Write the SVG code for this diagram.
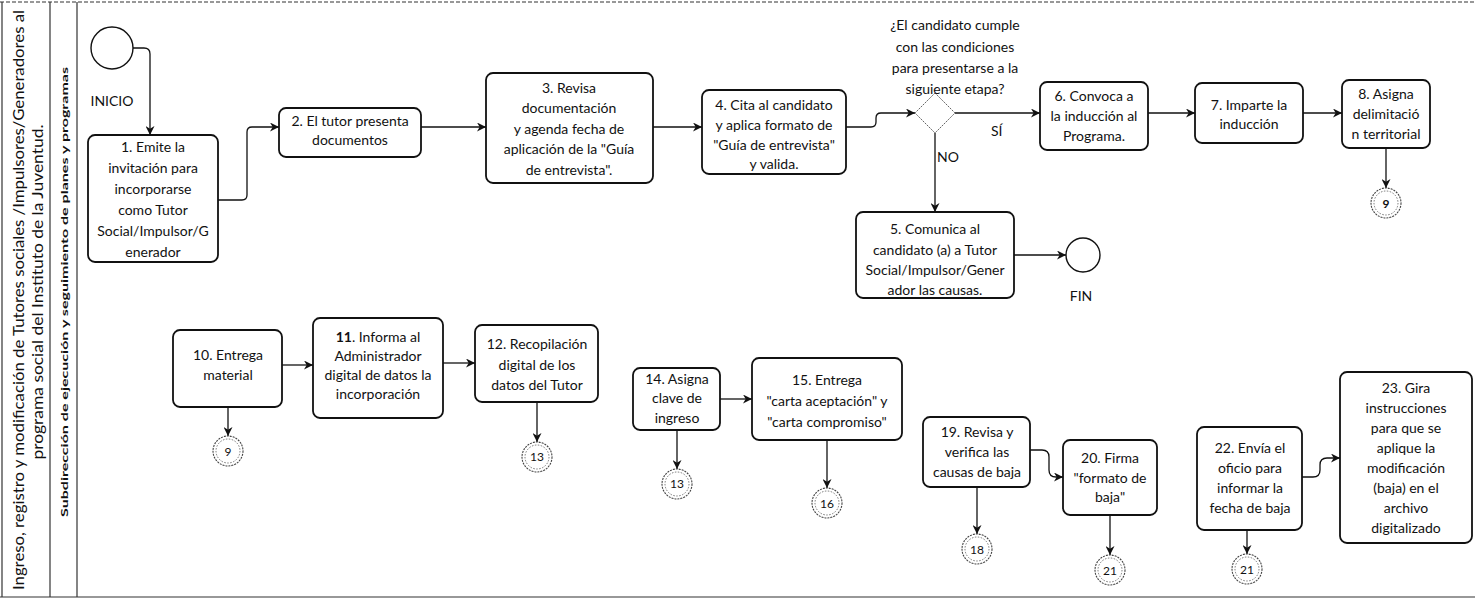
<svg xmlns="http://www.w3.org/2000/svg" width="1475" height="611" viewBox="0 0 1475 611">
<style>
.frame{fill:none;stroke:#333;stroke-width:1.2}
.box{fill:#fff;stroke:#111;stroke-width:1.8}
.t{font-family:Lato,"Liberation Sans",sans-serif;font-size:14px;fill:#111;text-anchor:middle}
.lbl{font-family:Lato,"Liberation Sans",sans-serif;font-size:14px;fill:#111}
.ttl{font-family:Lato,"Liberation Sans",sans-serif;font-size:15px;fill:#111;text-anchor:middle}
.sub{font-family:Lato,"Liberation Sans",sans-serif;font-size:10px;font-weight:bold;fill:#111;text-anchor:middle}
.c{fill:none;stroke:#111;stroke-width:1.3;marker-end:url(#ah)}
.off{fill:#fff;stroke:#444;stroke-width:1.1;stroke-dasharray:2 1}
.offi{fill:none;stroke:#666;stroke-width:0.9;stroke-dasharray:1.5 1.5}
.offt{font-family:Lato,"Liberation Sans",sans-serif;font-size:12px;fill:#111;text-anchor:middle}
.ev{fill:#fff;stroke:#111;stroke-width:1.4}
</style>
<defs>
<marker id="ah" viewBox="0 0 10 10" refX="10" refY="5" markerWidth="9" markerHeight="9" orient="auto" markerUnits="userSpaceOnUse">
<path d="M0,0 L10,5 L0,10 L3,5 z" fill="#111"/>
</marker>
</defs>
<rect width="1475" height="611" fill="#fff"/>
<g id="frame">
<line class="frame" x1="0" y1="2" x2="1475" y2="2" stroke-dasharray="4 2"/>
<line class="frame" x1="0" y1="597" x2="1475" y2="597"/>
<line class="frame" x1="2" y1="2" x2="2" y2="597"/>
<line class="frame" x1="50" y1="2" x2="50" y2="597"/>
<line class="frame" x1="77" y1="2" x2="77" y2="597"/>
<text class="ttl" transform="translate(19,300) rotate(-90)" y="5" textLength="580" lengthAdjust="spacingAndGlyphs">Ingreso, registro y modificación de Tutores sociales /Impulsores/Generadores al</text>
<text class="ttl" transform="translate(38,292) rotate(-90)" y="5" textLength="335" lengthAdjust="spacingAndGlyphs">programa social del Instituto de la Juventud.</text>
<text class="sub" transform="translate(64,292) rotate(-90)" y="4" textLength="450" lengthAdjust="spacingAndGlyphs">Subdirección de ejecución y seguimiento de planes y programas</text>
</g>
<g id="connectors">
<path class="c" d="M133,48 H144 Q150,48 150,54 V135"/>
<path class="c" d="M218,200 H242 Q247,200 247,195 V132 Q247,127 252,127 H279"/>
<path class="c" d="M421,127 H486"/>
<path class="c" d="M653,127 H702"/>
<path class="c" d="M846,127 H871 Q876,127 876,122 V118 Q876,113 881,113 H915"/>
<path class="c" d="M955,113 H1040"/>
<path class="c" d="M935,133 V212"/>
<path class="c" d="M1014,255 H1066"/>
<path class="c" d="M1148,113 H1195"/>
<path class="c" d="M1303,113 H1342"/>
<path class="c" d="M1386,148 V188"/>
<path class="c" d="M228,407 V436"/>
<path class="c" d="M282,365 H313"/>
<path class="c" d="M443,363 H475"/>
<path class="c" d="M537,402 V442"/>
<path class="c" d="M677,430 V469"/>
<path class="c" d="M720,399 H752"/>
<path class="c" d="M827,440 V488"/>
<path class="c" d="M977,487 V534"/>
<path class="c" d="M1030,450 H1042 Q1049,450 1049,457 V470 Q1049,477 1056,477 H1063"/>
<path class="c" d="M1110,515 V555"/>
<path class="c" d="M1247,530 V554"/>
<path class="c" d="M1302,477 H1313 Q1320,477 1320,470 V465 Q1320,458 1327,458 H1340"/>
<text class="lbl" x="991" y="136">SÍ</text>
<text class="lbl" x="937" y="162">NO</text>
</g>
<g id="inicio">
<circle class="ev" cx="112" cy="48" r="21"/>
<text class="t" x="112" y="106">INICIO</text>
</g>
<g id="n1">
<rect class="box" x="88" y="135" width="130" height="127" rx="7"/>
<text class="t" x="153" y="152">1. Emite la</text>
<text class="t" x="153" y="173">invitación para</text>
<text class="t" x="153" y="194">incorporarse</text>
<text class="t" x="153" y="215">como Tutor</text>
<text class="t" x="153" y="236">Social/Impulsor/G</text>
<text class="t" x="153" y="257">enerador</text>
</g>
<g id="n2">
<rect class="box" x="279" y="108" width="142" height="49" rx="7"/>
<text class="t" x="350" y="126">2. El tutor presenta</text>
<text class="t" x="350" y="145">documentos</text>
</g>
<g id="n3">
<rect class="box" x="486" y="73" width="167" height="110" rx="7"/>
<text class="t" x="569" y="93">3. Revisa</text>
<text class="t" x="569" y="113">documentación</text>
<text class="t" x="569" y="134">y agenda fecha de</text>
<text class="t" x="569" y="154">aplicación de la "Guía</text>
<text class="t" x="569" y="175">de entrevista".</text>
</g>
<g id="n4">
<rect class="box" x="702" y="90" width="144" height="84" rx="7"/>
<text class="t" x="774" y="110">4. Cita al candidato</text>
<text class="t" x="774" y="130">y aplica formato de</text>
<text class="t" x="774" y="150">"Guía de entrevista"</text>
<text class="t" x="774" y="169">y valida.</text>
</g>
<g id="d1">
<polygon points="935,93 955,113 935,133 915,113" fill="#fff" stroke="#666" stroke-width="1" stroke-dasharray="2 1"/>
<text class="t" x="955" y="30">¿El candidato cumple</text>
<text class="t" x="955" y="52">con las condiciones</text>
<text class="t" x="955" y="73">para presentarse a la</text>
<text class="t" x="955" y="94">siguiente etapa?</text>
</g>
<g id="n5">
<rect class="box" x="856" y="212" width="158" height="86" rx="7"/>
<text class="t" x="935" y="234">5. Comunica al</text>
<text class="t" x="935" y="255">candidato (a) a Tutor</text>
<text class="t" x="935" y="275">Social/Impulsor/Gener</text>
<text class="t" x="935" y="295">ador las causas.</text>
</g>
<g id="fin">
<circle class="ev" cx="1083" cy="255" r="17" stroke-width="2.2"/>
<text class="t" x="1081" y="301">FIN</text>
</g>
<g id="n6">
<rect class="box" x="1040" y="82" width="108" height="68" rx="7"/>
<text class="t" x="1094" y="101">6. Convoca a</text>
<text class="t" x="1094" y="121">la inducción al</text>
<text class="t" x="1094" y="141">Programa.</text>
</g>
<g id="n7">
<rect class="box" x="1195" y="83" width="108" height="60" rx="7"/>
<text class="t" x="1249" y="110">7. Imparte la</text>
<text class="t" x="1249" y="129">inducción</text>
</g>
<g id="n8">
<rect class="box" x="1342" y="80" width="88" height="68" rx="7"/>
<text class="t" x="1386" y="99">8. Asigna</text>
<text class="t" x="1386" y="119">delimitació</text>
<text class="t" x="1386" y="139">n territorial</text>
</g>
<g id="off9a">
<circle class="off" cx="1386" cy="203" r="15"/>
<circle class="offi" cx="1386" cy="203" r="12"/>
<text class="offt" x="1386" y="208" font-weight="bold">9</text>
</g>
<g id="n10">
<rect class="box" x="173" y="330" width="109" height="77" rx="7"/>
<text class="t" x="228" y="360">10. Entrega</text>
<text class="t" x="228" y="380">material</text>
</g>
<g id="off9b">
<circle class="off" cx="228" cy="451" r="15"/>
<circle class="offi" cx="228" cy="451" r="12"/>
<text class="offt" x="228" y="456">9</text>
</g>
<g id="n11">
<rect class="box" x="313" y="318" width="130" height="100" rx="7"/>
<text class="t" x="378" y="342"><tspan font-weight="bold">11</tspan>. Informa al</text>
<text class="t" x="378" y="361">Administrador</text>
<text class="t" x="378" y="380">digital de datos la</text>
<text class="t" x="378" y="399">incorporación</text>
</g>
<g id="n12">
<rect class="box" x="475" y="325" width="123" height="77" rx="7"/>
<text class="t" x="537" y="349">12. Recopilación</text>
<text class="t" x="537" y="370">digital de los</text>
<text class="t" x="537" y="390">datos  del Tutor</text>
</g>
<g id="off13a">
<circle class="off" cx="537" cy="457" r="15"/>
<circle class="offi" cx="537" cy="457" r="12"/>
<text class="offt" x="537" y="461">13</text>
</g>
<g id="n14">
<rect class="box" x="633" y="368" width="87" height="62" rx="7"/>
<text class="t" x="677" y="384">14. Asigna</text>
<text class="t" x="677" y="403">clave de</text>
<text class="t" x="677" y="423">ingreso</text>
</g>
<g id="off13b">
<circle class="off" cx="677" cy="484" r="15"/>
<circle class="offi" cx="677" cy="484" r="12"/>
<text class="offt" x="677" y="488">13</text>
</g>
<g id="n15">
<rect class="box" x="752" y="358" width="150" height="82" rx="7"/>
<text class="t" x="827" y="385">15. Entrega</text>
<text class="t" x="827" y="406">"carta aceptación" y</text>
<text class="t" x="827" y="427">"carta compromiso"</text>
</g>
<g id="off16">
<circle class="off" cx="827" cy="503" r="15"/>
<circle class="offi" cx="827" cy="503" r="12"/>
<text class="offt" x="827" y="508">16</text>
</g>
<g id="n19">
<rect class="box" x="923" y="417" width="107" height="70" rx="7"/>
<text class="t" x="977" y="437">19. Revisa y</text>
<text class="t" x="977" y="457">verifica las</text>
<text class="t" x="977" y="477">causas de baja</text>
</g>
<g id="off18">
<circle class="off" cx="977" cy="549" r="15"/>
<circle class="offi" cx="977" cy="549" r="12"/>
<text class="offt" x="977" y="554">18</text>
</g>
<g id="n20">
<rect class="box" x="1063" y="440" width="94" height="75" rx="7"/>
<text class="t" x="1110" y="463">20. Firma</text>
<text class="t" x="1110" y="483">"formato de</text>
<text class="t" x="1110" y="502">baja"</text>
</g>
<g id="off21a">
<circle class="off" cx="1110" cy="570" r="15"/>
<circle class="offi" cx="1110" cy="570" r="12"/>
<text class="offt" x="1110" y="575">21</text>
</g>
<g id="n22">
<rect class="box" x="1197" y="427" width="105" height="103" rx="7"/>
<text class="t" x="1250" y="453">22. Envía el</text>
<text class="t" x="1250" y="473">oficio para</text>
<text class="t" x="1250" y="493">informar la</text>
<text class="t" x="1250" y="513">fecha de baja</text>
</g>
<g id="off21b">
<circle class="off" cx="1247" cy="569" r="15"/>
<circle class="offi" cx="1247" cy="569" r="12"/>
<text class="offt" x="1247" y="574">21</text>
</g>
<g id="n23">
<rect class="box" x="1340" y="372" width="132" height="171" rx="7"/>
<text class="t" x="1406" y="393">23. Gira</text>
<text class="t" x="1406" y="413">instrucciones</text>
<text class="t" x="1406" y="433">para que se</text>
<text class="t" x="1406" y="453">aplique la</text>
<text class="t" x="1406" y="473">modificación</text>
<text class="t" x="1406" y="493">(baja) en el</text>
<text class="t" x="1406" y="513">archivo</text>
<text class="t" x="1406" y="533">digitalizado</text>
</g>
</svg>
